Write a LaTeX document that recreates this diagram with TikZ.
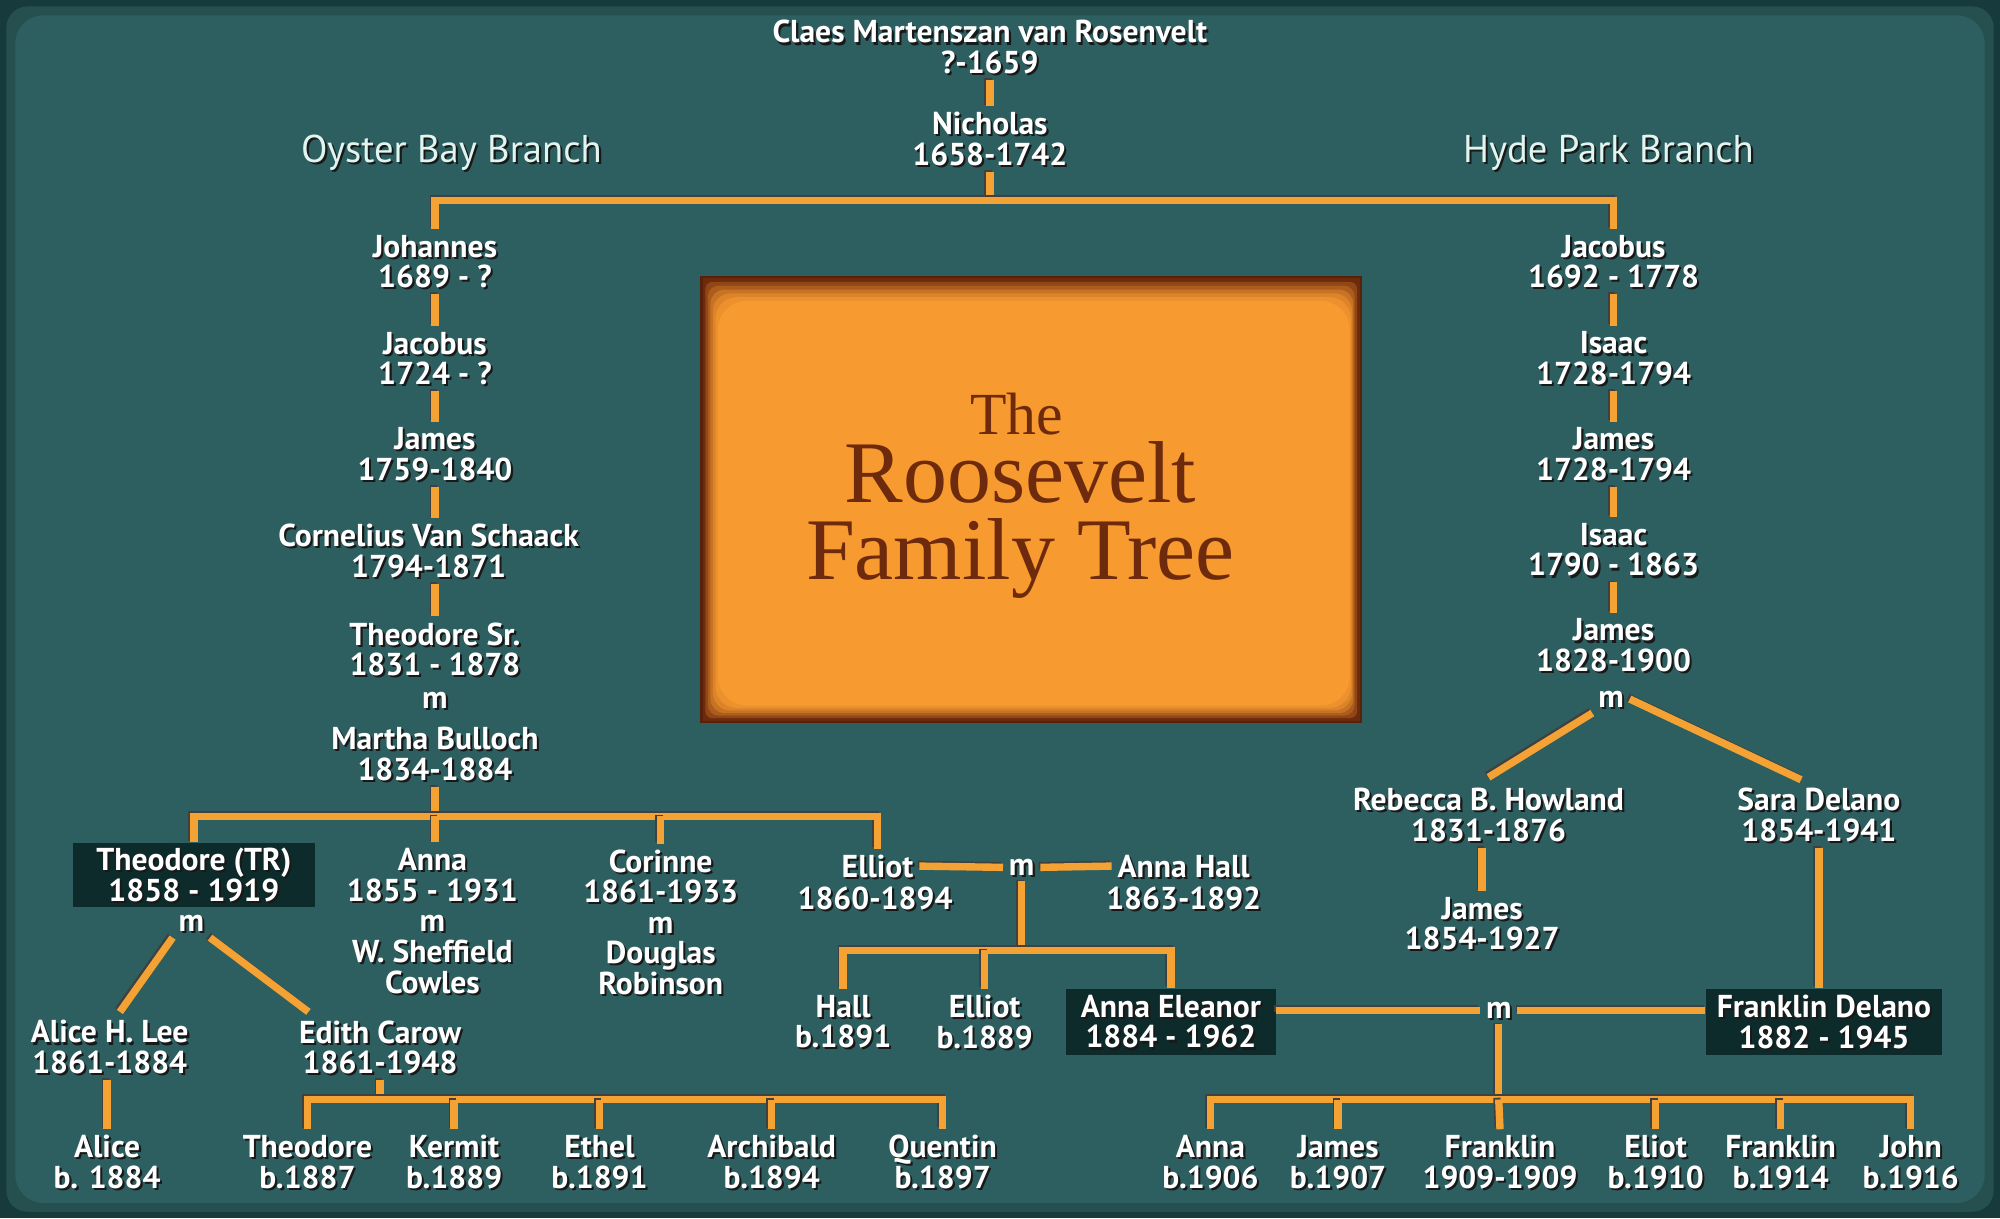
\documentclass[tikz,border=0pt]{standalone}
\usepackage{fontspec}
\setmainfont{PT Sans}
\newfontfamily\titlefont{Liberation Serif}
\usetikzlibrary{calc}
\definecolor{bgteal}{HTML}{2E5F60}
\definecolor{bgmid}{HTML}{25504F}
\definecolor{bgdark}{HTML}{173A3C}
\definecolor{linkor}{HTML}{F5A235}
\definecolor{boxdark}{HTML}{0E2B2C}
\definecolor{titleor}{HTML}{F79A30}
\definecolor{titlebr}{HTML}{6E2A0C}
\definecolor{branchc}{HTML}{E0F5F0}
\def\myu{0.012755cm}
\tikzset{
  ptext/.style={text=white, font=\bfseries\fontsize{9}{8.7}\selectfont, align=center, inner sep=1.5pt},
  pshadow/.style={ptext, text=black!90, xshift=0.6pt, yshift=-0.6pt},
  branch/.style={text=branchc, font=\fontsize{11}{12}\selectfont, inner sep=1pt},
  branchshadow/.style={branch, text=black!90, xshift=0.6pt, yshift=-0.6pt},
  darkbox/.style={fill=boxdark, draw=none, inner sep=0pt},
  link/.style={draw=linkor, line width=2.1pt,
    preaction={draw=black!75, line width=2.1pt, transform canvas={xshift=-0.5pt,yshift=0.5pt}}},
  ttl/.style={text=titlebr, anchor=base, inner sep=0pt},
}
\newcommand\pers[4]{%
  \node[pshadow] at (#2,#3) {#4};
  \node[ptext] (#1) at (#2,#3) {#4};}
\newcommand\pbox[6]{%
  \node[darkbox, minimum width=#4*\myu, minimum height=#5*\myu] (#1) at (#2,#3) {};
  \node[pshadow] at (#2,#3) {#6};
  \node[ptext] at (#2,#3) {#6};}
\begin{document}
\begin{tikzpicture}[x=0.012755cm, y=-0.012755cm]
\useasboundingbox (0,0) rectangle (1568,955);
% background
\fill[bgdark] (0,0) rectangle (1568,955);
\fill[bgmid, rounded corners=6] (5,5) rectangle (1563,950);
\fill[bgteal, rounded corners=8] (12,12) rectangle (1556,943);
% title box
\fill[titlebr!80!black] (549,216) rectangle (1068,567);
\fill[titlebr] (551,218) rectangle (1066,565);
\fill[titlebr!75!titleor, rounded corners=2] (553,221) rectangle (1064,563);
\fill[titlebr!55!titleor, rounded corners=3] (555,224) rectangle (1062,561);
\fill[titlebr!35!titleor, rounded corners=4] (557,227) rectangle (1061,559);
\fill[titlebr!20!titleor, rounded corners=5] (559,230) rectangle (1060,557);
\fill[titlebr!8!titleor, rounded corners=6] (561,233) rectangle (1059,555);
\fill[titleor, rounded corners=8] (563,236) rectangle (1058,553);
\node[ttl, font=\titlefont\fontsize{17}{17}\selectfont] (tThe) at (797,341) {The};
\node[ttl, font=\titlefont\fontsize{25}{25}\selectfont] (tRoos) at (800,394) {Roosevelt};
\node[ttl, font=\titlefont\fontsize{25}{25}\selectfont] (tFam) at (800,454) {Family Tree};
% headings
\node[branchshadow] at (354,120) {Oyster Bay Branch};
\node[branch] (oyster) at (354,120) {Oyster Bay Branch};
\node[branchshadow] at (1261,120) {Hyde Park Branch};
\node[branch] (hyde) at (1261,120) {Hyde Park Branch};
% top
\pers{claes}{776}{37}{Claes Martenszan van Rosenvelt\\?-1659}
\pers{nicholas}{776}{109}{Nicholas\\1658-1742}
% Oyster Bay column
\pers{johannes}{341}{205}{Johannes\\1689 - ?}
\pers{jacobusL}{341}{281}{Jacobus\\1724 - ?}
\pers{jamesL}{341}{356}{James\\1759-1840}
\pers{cornelius}{336}{432}{Cornelius Van Schaack\\1794-1871}
\pers{tsr}{341}{509}{Theodore Sr.\\1831 - 1878}
\pers{msr}{341}{549}{m}
\pers{martha}{341}{591}{Martha Bulloch\\1834-1884}
% Hyde Park column
\pers{jacH}{1265}{205}{Jacobus\\1692 - 1778}
\pers{isaacA}{1265}{281}{Isaac\\1728-1794}
\pers{jamesA}{1265}{356}{James\\1728-1794}
\pers{isaacB}{1265}{431}{Isaac\\1790 - 1863}
\pers{jamesB}{1265}{506}{James\\1828-1900}
\pers{mH}{1263}{548}{m}
\pers{rebecca}{1167}{639}{Rebecca B. Howland\\1831-1876}
\pers{sara}{1426}{639}{Sara Delano\\1854-1941}
\pers{jamesR}{1162}{724}{James\\1854-1927}
\pbox{fdbox}{1430}{801}{185}{52}{Franklin Delano\\1882 - 1945}
% TR generation
\pbox{tr}{152}{686}{190}{50}{Theodore (TR)\\1858 - 1919}
\pers{mT}{150}{724}{m}
\pers{annaS}{339}{722}{Anna\\1855 - 1931\\m\\W. Sheffield\\Cowles}
\pers{corinne}{518}{723}{Corinne\\1861-1933\\m\\Douglas\\Robinson}
\pers{elliotN}{688}{679}{Elliot}
\pers{elliotD}{686}{704}{1860-1894}
\pers{mE}{801}{680}{m}
\pers{annahallN}{928}{679}{Anna Hall}
\pers{annahallD}{928}{704}{1863-1892}
\pers{hall}{661}{801}{Hall\\b.1891}
\pers{elliotJ}{772}{801}{Elliot\\b.1889}
\pbox{aebox}{918}{801}{164}{52}{Anna Eleanor\\1884 - 1962}
\pers{mF}{1175}{792}{m}
\pers{alice}{86}{821}{Alice H. Lee\\1861-1884}
\pers{edith}{298}{821}{Edith Carow\\1861-1948}
% grandchildren
\pers{alicejr}{84}{911}{Alice\\b. 1884}
\pers{theoJ}{241}{911}{Theodore\\b.1887}
\pers{kermit}{356}{911}{Kermit\\b.1889}
\pers{ethel}{470}{911}{Ethel\\b.1891}
\pers{archibald}{605}{911}{Archibald\\b.1894}
\pers{quentin}{739}{911}{Quentin\\b.1897}
\pers{annaC}{949}{911}{Anna\\b.1906}
\pers{jamesC}{1049}{911}{James\\b.1907}
\pers{franklinA}{1176}{911}{Franklin\\1909-1909}
\pers{eliotC}{1298}{911}{Eliot\\b.1910}
\pers{franklinB}{1396}{911}{Franklin\\b.1914}
\pers{johnC}{1498}{911}{John\\b.1916}
% bar coordinates
\coordinate (b1) at (776,157);
\coordinate (b2) at (341,640);
\coordinate (b3) at (801,745);
\coordinate (b4) at (1175,862);
\coordinate (b5) at (298,862);
% connectors
\draw[link] (claes.south) -- (nicholas.north);
\draw[link] (nicholas.south) -- (b1);
\draw[link] (johannes.north) |- (b1) -| (jacH.north);
\draw[link] (johannes.south) -- (jacobusL.north);
\draw[link] (jacobusL.south) -- (jamesL.north);
\draw[link] (jamesL.south) -- (jamesL.south |- cornelius.north);
\draw[link] (tsr.north) -- (tsr.north |- cornelius.south);
\draw[link] (jacH.south) -- (isaacA.north);
\draw[link] (isaacA.south) -- (jamesA.north);
\draw[link] (jamesA.south) -- (isaacB.north);
\draw[link] (isaacB.south) -- (jamesB.north);
\draw[link] (mH.south west) -- ($(rebecca.north)+(0,-4)$);
\draw[link] (mH.east) -- ($(sara.north)+(-14,-2)$);
\draw[link] (jamesR.north) -- (jamesR.north |- rebecca.south);
\draw[link] (sara.south) -- (sara.south |- fdbox.north);
\draw[link] (martha.south) -- (b2);
\draw[link] (tr.north) |- (b2) -| (elliotN.north);
\draw[link] (b2) -- (annaS.north -| b2);
\draw[link] (corinne.north) -- (corinne.north |- b2);
\draw[link] (elliotN.east) -- (mE.west);
\draw[link] (mE.east) -- (annahallN.west);
\draw[link] (mE.south) -- (b3);
\draw[link] (hall.north) |- (b3) -| (aebox.north);
\draw[link] (elliotJ.north) -- (elliotJ.north |- b3);
\draw[link] (aebox.east |- mF.west) -- (mF.west);
\draw[link] (mF.east) -- (fdbox.west |- mF.east);
\draw[link] (mF.south) -- (b4);
\draw[link] (annaC.north) |- (b4) -| (johnC.north);
\draw[link] (jamesC.north) -- (jamesC.north |- b4);
\draw[link] (franklinA.north) -- (b4);
\draw[link] (eliotC.north) -- (eliotC.north |- b4);
\draw[link] (franklinB.north) -- (franklinB.north |- b4);
\draw[link] (mT.south west) -- ($(alice.north)+(8,-2)$);
\draw[link] (mT.south east) -- ($(edith.north west)+(12,-2)$);
\draw[link] (alicejr.north) -- (alicejr.north |- alice.south);
\draw[link] (edith.south) -- (b5);
\draw[link] (theoJ.north) |- (b5) -| (quentin.north);
\draw[link] (kermit.north) -- (kermit.north |- b5);
\draw[link] (ethel.north) -- (ethel.north |- b5);
\draw[link] (archibald.north) -- (archibald.north |- b5);
\end{tikzpicture}
\end{document}
